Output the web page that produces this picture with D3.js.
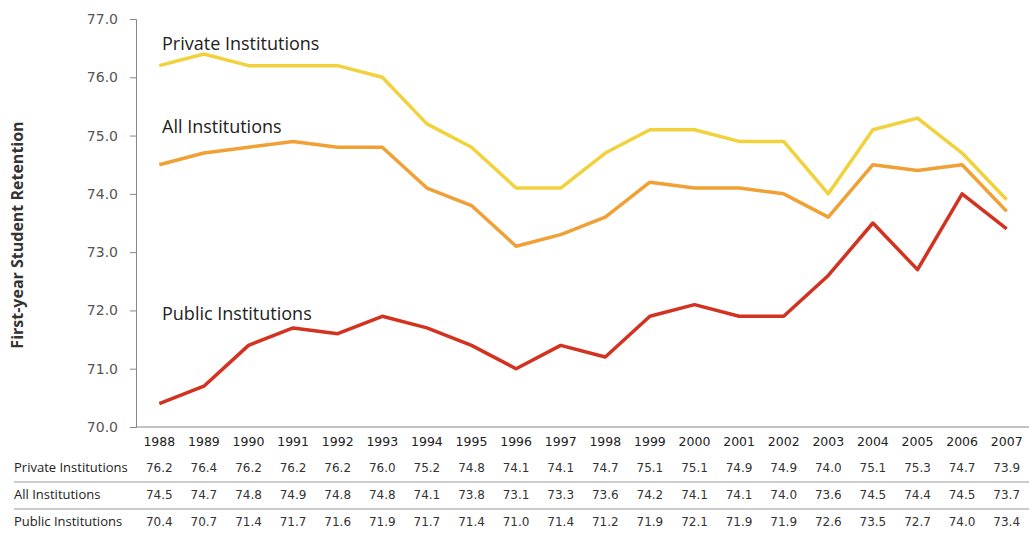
<!DOCTYPE html>
<meta charset="utf-8">
<style>
body { margin: 0; background: #fff; }
svg { display: block; }
.tick text { font-family: "DejaVu Sans", sans-serif; fill: #555; }
</style>
<svg width="1029" height="537"></svg>
<script src="https://d3js.org/d3.v7.min.js"></script>
<script>
var years = ['1988','1989','1990','1991','1992','1993','1994','1995','1996','1997',
  '1998','1999','2000','2001','2002','2003','2004','2005','2006','2007'];
var privateVals = [76.2,76.4,76.2,76.2,76.2,76.0,75.2,74.8,74.1,74.1,74.7,75.1,75.1,74.9,74.9,74.0,75.1,75.3,74.7,73.9];
var allVals = [74.5,74.7,74.8,74.9,74.8,74.8,74.1,73.8,73.1,73.3,73.6,74.2,74.1,74.1,74.0,73.6,74.5,74.4,74.5,73.7];
var publicVals = [70.4,70.7,71.4,71.7,71.6,71.9,71.7,71.4,71.0,71.4,71.2,71.9,72.1,71.9,71.9,72.6,73.5,72.7,74.0,73.4];
var yTicks = [70, 71, 72, 73, 74, 75, 76, 77];

var series = [
  { name: 'Private Institutions', values: privateVals, color: '#f2d23c', labelAt: 76.46 },
  { name: 'All Institutions', values: allVals, color: '#f0a035', labelAt: 75.04 },
  { name: 'Public Institutions', values: publicVals, color: '#d2321f', labelAt: 71.84 }
];
var tableRows = [series[0], series[1], series[2]];

var svg = d3.select('svg');
var x = d3.scalePoint().domain(years).range([137, 1029]).padding(0.5);
var y = d3.scaleLinear().domain([70, 77]).range([427, 19]);

// y axis
svg.append('g')
  .attr('transform', 'translate(136,0)')
  .call(d3.axisLeft(y).tickValues(yTicks).tickFormat(d3.format('.1f')).tickSize(6).tickPadding(12))
  .call(function (g) {
    g.select('.domain').attr('stroke', '#888');
    g.selectAll('.tick line').attr('stroke', '#888');
    g.selectAll('.tick text').attr('font-size', 14);
  });

// x axis line
svg.append('line')
  .attr('x1', 136).attr('x2', 1029)
  .attr('y1', y(70)).attr('y2', y(70))
  .attr('stroke', '#888');

svg.append('text')
  .attr('transform', 'translate(23,' + 235 + ') rotate(-90)')
  .attr('text-anchor', 'middle')
  .attr('font-family', 'Open Sans, sans-serif')
  .attr('font-size', 16)
  .attr('font-weight', 'bold')
  .attr('fill', '#333')
  .text('First-year Student Retention');

var line = d3.line()
  .x(function (d, i) { return x(years[i]); })
  .y(function (d) { return y(d); });

svg.selectAll('.series')
  .data(series)
  .enter()
  .append('path')
  .attr('class', 'series')
  .attr('fill', 'none')
  .attr('stroke', function (d) { return d.color; })
  .attr('stroke-width', 3.5)
  .attr('stroke-linejoin', 'round')
  .attr('d', function (d) { return line(d.values); });

svg.selectAll('.slabel')
  .data(series)
  .enter()
  .append('text')
  .attr('class', 'slabel')
  .attr('x', 162)
  .attr('y', function (d) { return y(d.labelAt); })
  .attr('font-family', 'Open Sans, sans-serif')
  .attr('font-size', 18)
  .attr('fill', '#222')
  .text(function (d) { return d.name; });

// year labels
svg.selectAll('.year')
  .data(years)
  .enter()
  .append('text')
  .attr('class', 'year')
  .attr('x', function (d) { return x(d); })
  .attr('y', 446)
  .attr('text-anchor', 'middle')
  .attr('font-family', 'DejaVu Sans, sans-serif')
  .attr('font-size', 12.5)
  .attr('fill', '#222')
  .text(function (d) { return d; });

// data table
var rowY = d3.scalePoint().domain(tableRows.map(function (d) { return d.name; })).range([472, 526]);

var rows = svg.selectAll('.row')
  .data(tableRows)
  .enter()
  .append('g')
  .attr('class', 'row')
  .attr('transform', function (d) { return 'translate(0,' + rowY(d.name) + ')'; });

rows.append('text')
  .attr('x', 14)
  .attr('font-family', 'Open Sans, sans-serif')
  .attr('font-size', 13)
  .attr('fill', '#222')
  .text(function (d) { return d.name; });

rows.selectAll('.val')
  .data(function (d) { return d.values; })
  .enter()
  .append('text')
  .attr('class', 'val')
  .attr('x', function (d, i) { return x(years[i]); })
  .attr('text-anchor', 'middle')
  .attr('font-family', 'DejaVu Sans, sans-serif')
  .attr('font-size', 12)
  .attr('fill', '#333')
  .text(function (d) { return d3.format('.1f')(d); });

// row separators
svg.selectAll('.sep')
  .data([482, 509])
  .enter()
  .append('line')
  .attr('x1', 14).attr('x2', 1029)
  .attr('y1', function (d) { return d; }).attr('y2', function (d) { return d; })
  .attr('stroke', '#999');
</script>
